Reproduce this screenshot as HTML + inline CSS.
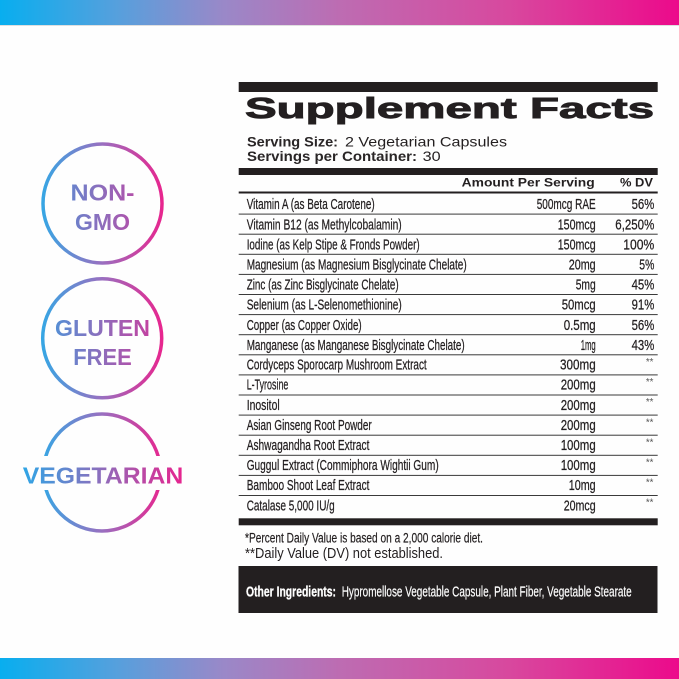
<!DOCTYPE html>
<html><head><meta charset="utf-8">
<style>
html,body{margin:0;padding:0;background:#fefefe;}
svg{display:block}
text{font-family:"Liberation Sans",sans-serif;}
</style></head>
<body>
<svg width="679" height="679" viewBox="0 0 679 679" xmlns="http://www.w3.org/2000/svg">
<defs>
<linearGradient id="bar" x1="0" y1="0" x2="679" y2="0" gradientUnits="userSpaceOnUse">
<stop offset="0" stop-color="#08aeef"/>
<stop offset="0.17" stop-color="#55a0dd"/>
<stop offset="0.33" stop-color="#9a88c8"/>
<stop offset="0.5" stop-color="#bd6cb2"/>
<stop offset="0.75" stop-color="#d8489e"/>
<stop offset="1" stop-color="#ec0a8b"/>
</linearGradient>
<linearGradient id="badge" x1="42" y1="0" x2="163" y2="0" gradientUnits="userSpaceOnUse">
<stop offset="0" stop-color="#36a6e4"/>
<stop offset="0.5" stop-color="#9a6fc0"/>
<stop offset="1" stop-color="#e8258e"/>
</linearGradient>
<linearGradient id="badgeT" x1="22" y1="0" x2="184" y2="0" gradientUnits="userSpaceOnUse">
<stop offset="0" stop-color="#2ea6e6"/>
<stop offset="0.5" stop-color="#8f6cbb"/>
<stop offset="1" stop-color="#e8238e"/>
</linearGradient>
</defs>

<rect width="679" height="679" fill="#fefefe"/>
<rect x="0" y="0" width="679" height="25" fill="url(#bar)"/>
<rect x="0" y="25" width="679" height="1" fill="#000" opacity="0.12"/>
<rect x="0" y="658" width="679" height="21" fill="url(#bar)"/>

<!-- Badges -->
<circle cx="102.5" cy="203.5" r="59.5" fill="none" stroke="url(#badge)" stroke-width="3.5"/>
<text x="102.5" y="200.7" text-anchor="middle" font-size="23.5" font-weight="bold" fill="url(#badgeT)" textLength="64" lengthAdjust="spacingAndGlyphs">NON-</text>
<text x="102.5" y="230" text-anchor="middle" font-size="23.5" font-weight="bold" fill="url(#badgeT)" textLength="55" lengthAdjust="spacingAndGlyphs">GMO</text>

<circle cx="102.2" cy="338.3" r="59.5" fill="none" stroke="url(#badge)" stroke-width="3.5"/>
<text x="102.5" y="336" text-anchor="middle" font-size="23.5" font-weight="bold" fill="url(#badgeT)" textLength="95" lengthAdjust="spacingAndGlyphs">GLUTEN</text>
<text x="102.5" y="365" text-anchor="middle" font-size="23.5" font-weight="bold" fill="url(#badgeT)" textLength="58.5" lengthAdjust="spacingAndGlyphs">FREE</text>

<circle cx="102" cy="472.5" r="58.5" fill="none" stroke="url(#badge)" stroke-width="3.5"/>
<rect x="18" y="456" width="170" height="34" fill="#fefefe"/>
<text x="103" y="483.3" text-anchor="middle" font-size="23.5" font-weight="bold" fill="url(#badgeT)" textLength="160.5" lengthAdjust="spacingAndGlyphs">VEGETARIAN</text>

<!-- Supplement facts panel -->
<g fill="#231f20">
<rect x="238.7" y="82" width="419" height="10"/>
<text x="245" y="118" font-size="28.5" font-weight="bold" stroke="#231f20" stroke-width="0.9" textLength="409" lengthAdjust="spacingAndGlyphs">Supplement Facts</text>

<text x="247" y="146.7" font-size="14" font-weight="bold" fill="#2a2627" textLength="91" lengthAdjust="spacingAndGlyphs">Serving Size:</text>
<text x="345" y="146.7" font-size="14" textLength="162" lengthAdjust="spacingAndGlyphs">2 Vegetarian Capsules</text>
<text x="247" y="161" font-size="14" font-weight="bold" fill="#2a2627" textLength="170" lengthAdjust="spacingAndGlyphs">Servings per Container:</text>
<text x="422.7" y="161" font-size="14" textLength="18" lengthAdjust="spacingAndGlyphs">30</text>

<rect x="238.7" y="168" width="419" height="7"/>

<text x="461.7" y="186.7" font-size="11.5" font-weight="bold" textLength="133" lengthAdjust="spacingAndGlyphs">Amount Per Serving</text>
<text x="620" y="186.7" font-size="11.5" font-weight="bold" textLength="33" lengthAdjust="spacingAndGlyphs">% DV</text>
<rect x="238.7" y="191.5" width="419" height="2"/>
</g>

<!-- separators -->
<g fill="#3a3a3a">
<rect x="238.7" y="213.6" width="419" height="1"/>
<rect x="238.7" y="233.7" width="419" height="1"/>
<rect x="238.7" y="253.8" width="419" height="1"/>
<rect x="238.7" y="273.9" width="419" height="1"/>
<rect x="238.7" y="294.0" width="419" height="1"/>
<rect x="238.7" y="314.1" width="419" height="1"/>
<rect x="238.7" y="334.2" width="419" height="1"/>
<rect x="238.7" y="354.3" width="419" height="1"/>
<rect x="238.7" y="374.4" width="419" height="1"/>
<rect x="238.7" y="394.5" width="419" height="1"/>
<rect x="238.7" y="414.6" width="419" height="1"/>
<rect x="238.7" y="434.7" width="419" height="1"/>
<rect x="238.7" y="454.8" width="419" height="1"/>
<rect x="238.7" y="474.9" width="419" height="1"/>
<rect x="238.7" y="495.0" width="419" height="1"/>
</g>

<g fill="#231f20" font-size="14.5" stroke="#231f20" stroke-width="0.25">
<text x="246.7" y="209.2" textLength="128" lengthAdjust="spacingAndGlyphs">Vitamin A (as Beta Carotene)</text>
<text x="595.7" y="209.2" text-anchor="end" textLength="59" lengthAdjust="spacingAndGlyphs">500mcg RAE</text>
<text x="654.3" y="209.2" text-anchor="end" textLength="22.7" lengthAdjust="spacingAndGlyphs">56%</text>

<text x="246.7" y="229.3" textLength="155" lengthAdjust="spacingAndGlyphs">Vitamin B12 (as Methylcobalamin)</text>
<text x="595.7" y="229.3" text-anchor="end" textLength="38" lengthAdjust="spacingAndGlyphs">150mcg</text>
<text x="654.3" y="229.3" text-anchor="end" textLength="39" lengthAdjust="spacingAndGlyphs">6,250%</text>

<text x="246.7" y="249.4" textLength="173" lengthAdjust="spacingAndGlyphs">Iodine (as Kelp Stipe &amp; Fronds Powder)</text>
<text x="595.7" y="249.4" text-anchor="end" textLength="38" lengthAdjust="spacingAndGlyphs">150mcg</text>
<text x="654.3" y="249.4" text-anchor="end" textLength="31" lengthAdjust="spacingAndGlyphs">100%</text>

<text x="246.7" y="269.5" textLength="220" lengthAdjust="spacingAndGlyphs">Magnesium (as Magnesium Bisglycinate Chelate)</text>
<text x="595.7" y="269.5" text-anchor="end" textLength="27" lengthAdjust="spacingAndGlyphs">20mg</text>
<text x="654.3" y="269.5" text-anchor="end" textLength="15" lengthAdjust="spacingAndGlyphs">5%</text>

<text x="246.7" y="289.6" textLength="152" lengthAdjust="spacingAndGlyphs">Zinc (as Zinc Bisglycinate Chelate)</text>
<text x="595.7" y="289.6" text-anchor="end" textLength="20" lengthAdjust="spacingAndGlyphs">5mg</text>
<text x="654.3" y="289.6" text-anchor="end" textLength="22.7" lengthAdjust="spacingAndGlyphs">45%</text>

<text x="246.7" y="309.7" textLength="155" lengthAdjust="spacingAndGlyphs">Selenium (as L-Selenomethionine)</text>
<text x="595.7" y="309.7" text-anchor="end" textLength="34" lengthAdjust="spacingAndGlyphs">50mcg</text>
<text x="654.3" y="309.7" text-anchor="end" textLength="22.7" lengthAdjust="spacingAndGlyphs">91%</text>

<text x="246.7" y="329.8" textLength="115" lengthAdjust="spacingAndGlyphs">Copper (as Copper Oxide)</text>
<text x="595.7" y="329.8" text-anchor="end" textLength="32" lengthAdjust="spacingAndGlyphs">0.5mg</text>
<text x="654.3" y="329.8" text-anchor="end" textLength="22.7" lengthAdjust="spacingAndGlyphs">56%</text>

<text x="246.7" y="349.9" textLength="218" lengthAdjust="spacingAndGlyphs">Manganese (as Manganese Bisglycinate Chelate)</text>
<text x="595.7" y="349.9" text-anchor="end" textLength="15" lengthAdjust="spacingAndGlyphs">1mg</text>
<text x="654.3" y="349.9" text-anchor="end" textLength="22.7" lengthAdjust="spacingAndGlyphs">43%</text>

<text x="246.7" y="369.6" textLength="180" lengthAdjust="spacingAndGlyphs">Cordyceps Sporocarp Mushroom Extract</text>
<text x="595.7" y="369.6" text-anchor="end" textLength="35.7" lengthAdjust="spacingAndGlyphs">300mg</text>

<text x="246.7" y="389.7" textLength="41.7" lengthAdjust="spacingAndGlyphs">L-Tyrosine</text>
<text x="595.7" y="389.7" text-anchor="end" textLength="35" lengthAdjust="spacingAndGlyphs">200mg</text>

<text x="246.7" y="409.8" textLength="33" lengthAdjust="spacingAndGlyphs">Inositol</text>
<text x="595.7" y="409.8" text-anchor="end" textLength="35" lengthAdjust="spacingAndGlyphs">200mg</text>

<text x="246.7" y="429.9" textLength="125" lengthAdjust="spacingAndGlyphs">Asian Ginseng Root Powder</text>
<text x="595.7" y="429.9" text-anchor="end" textLength="35" lengthAdjust="spacingAndGlyphs">200mg</text>

<text x="246.7" y="450.0" textLength="122.7" lengthAdjust="spacingAndGlyphs">Ashwagandha Root Extract</text>
<text x="595.7" y="450.0" text-anchor="end" textLength="35" lengthAdjust="spacingAndGlyphs">100mg</text>

<text x="246.7" y="470.1" textLength="192" lengthAdjust="spacingAndGlyphs">Guggul Extract (Commiphora Wightii Gum)</text>
<text x="595.7" y="470.1" text-anchor="end" textLength="35" lengthAdjust="spacingAndGlyphs">100mg</text>

<text x="246.7" y="490.2" textLength="122.7" lengthAdjust="spacingAndGlyphs">Bamboo Shoot Leaf Extract</text>
<text x="595.7" y="490.2" text-anchor="end" textLength="27" lengthAdjust="spacingAndGlyphs">10mg</text>

<text x="246.7" y="510.3" textLength="88" lengthAdjust="spacingAndGlyphs">Catalase 5,000 IU/g</text>
<text x="595.7" y="510.3" text-anchor="end" textLength="32" lengthAdjust="spacingAndGlyphs">20mcg</text>
</g>

<g fill="#555" font-size="10">
<text x="653.5" y="365" text-anchor="end" textLength="7.6" lengthAdjust="spacingAndGlyphs">**</text>
<text x="653.5" y="385.1" text-anchor="end" textLength="7.6" lengthAdjust="spacingAndGlyphs">**</text>
<text x="653.5" y="405.2" text-anchor="end" textLength="7.6" lengthAdjust="spacingAndGlyphs">**</text>
<text x="653.5" y="425.3" text-anchor="end" textLength="7.6" lengthAdjust="spacingAndGlyphs">**</text>
<text x="653.5" y="445.4" text-anchor="end" textLength="7.6" lengthAdjust="spacingAndGlyphs">**</text>
<text x="653.5" y="465.5" text-anchor="end" textLength="7.6" lengthAdjust="spacingAndGlyphs">**</text>
<text x="653.5" y="485.6" text-anchor="end" textLength="7.6" lengthAdjust="spacingAndGlyphs">**</text>
<text x="653.5" y="505.7" text-anchor="end" textLength="7.6" lengthAdjust="spacingAndGlyphs">**</text>
</g>

<g fill="#231f20">
<rect x="238.7" y="518.3" width="419" height="7"/>
<text x="245" y="542.7" font-size="13.5" stroke="#231f20" stroke-width="0.2" textLength="238" lengthAdjust="spacingAndGlyphs">*Percent Daily Value is based on a 2,000 calorie diet.</text>
<text x="245" y="558" font-size="14.5" textLength="198" lengthAdjust="spacingAndGlyphs">**Daily Value (DV) not established.</text>
<rect x="238.5" y="566" width="419" height="47" fill="#231f20"/>
</g>
<text x="246" y="596.7" font-size="15" font-weight="bold" fill="#ffffff" stroke="#ffffff" stroke-width="0.3" textLength="90" lengthAdjust="spacingAndGlyphs">Other  Ingredients:</text>
<text x="341.7" y="596.7" font-size="15" fill="#ffffff" stroke="#ffffff" stroke-width="0.2" textLength="290" lengthAdjust="spacingAndGlyphs">Hypromellose Vegetable Capsule, Plant Fiber, Vegetable Stearate</text>
</svg>
</body></html>
